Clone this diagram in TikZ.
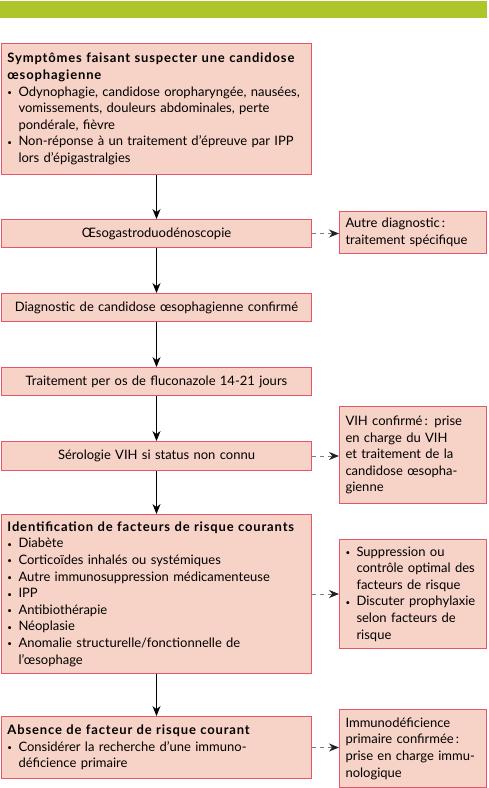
\documentclass[tikz,border=0pt]{standalone}
\usepackage{fontspec}
\setmainfont{Lato}[BoldFeatures={LetterSpace=6.5}]
\usetikzlibrary{arrows.meta}
\definecolor{boxfill}{HTML}{F7D2C6}
\definecolor{boxdraw}{HTML}{E4576A}
\definecolor{barcol}{HTML}{AEC62B}
\definecolor{dashcol}{HTML}{7A7A7A}
\definecolor{headcol}{HTML}{222222}
\newcommand\bul{\makebox[11pt][l]{\raisebox{0.6pt}{\footnotesize\textbullet}}}
\newcommand\ind{\hspace*{11pt}}
\begin{document}
\begin{tikzpicture}[x=1pt,y=-1pt,
  every node/.style={font=\fontsize{13}{16.6}\selectfont},
  mainbox/.style={draw=boxdraw, fill=boxfill, line width=1pt, anchor=north west,
    minimum width=309pt, text width=298pt, inner xsep=6pt, inner ysep=0pt, align=left},
  sidebox/.style={draw=boxdraw, fill=boxfill, line width=1pt, anchor=north west,
    minimum width=147pt, text width=135pt, inner xsep=6pt, inner ysep=0pt, align=left},
  flow/.style={-{Stealth[length=10pt,width=8pt]}, line width=0.9pt, black},
  side/.style={-{Stealth[length=10pt,width=8pt,color=headcol]}, line width=0.9pt, dashcol, dash pattern=on 4pt off 4pt}
]
\useasboundingbox (0,0) rectangle (488,788);
\fill[barcol] (0,1) rectangle (487,18);

\node[mainbox, minimum height=131pt] (b1) at (1,43) {%
\textbf{Symptômes faisant suspecter une candidose}\\
\textbf{œsophagienne}\\
\bul \mbox{Odynophagie, candidose oropharyngée, nausées,}\\
\ind vomissements, douleurs abdominales, perte\\
\ind pondérale, fièvre\\
\bul \mbox{Non-réponse à un traitement d’épreuve par IPP}\\
\ind lors d’épigastralgies};

\node[mainbox, minimum height=28pt, align=center] (b2) at (1,219) {Œsogastroduodénoscopie};
\node[mainbox, minimum height=28pt, align=center] (b3) at (1,293) {Diagnostic de candidose œsophagienne confirmé};
\node[mainbox, minimum height=28pt, align=center] (b4) at (1,367) {Traitement per os de fluconazole 14-21 jours};
\node[mainbox, minimum height=29pt, align=center] (b5) at (1,441) {Sérologie VIH si status non connu};

\node[mainbox, minimum height=159pt] (b6) at (1,514) {%
\mbox{\textbf{Identification de facteurs de risque courants}}\\
\bul Diabète\\
\bul Corticoïdes inhalés ou systémiques\\
\bul Autre immunosuppression médicamenteuse\\
\bul IPP\\
\bul Antibiothérapie\\
\bul Néoplasie\\
\bul Anomalie structurelle/fonctionnelle de\\
\ind l’œsophage};

\node[mainbox, minimum height=62pt] (b7) at (1,716) {%
\textbf{Absence de facteur de risque courant}\\
\bul Considérer la recherche d’une immuno-\\
\ind déficience primaire};

\node[sidebox, minimum height=42pt] (s1) at (339,211) {Autre diagnostic\,:\\traitement spécifique};
\node[sidebox, minimum height=97pt] (s2) at (339,406) {VIH confirmé\,: prise\\en charge du VIH\\et traitement de la\\candidose œsopha-\\gienne};
\node[sidebox, minimum height=109pt] (s3) at (339,539) {%
\bul Suppression ou\\
\ind \mbox{contrôle optimal des}\\
\ind facteurs de risque\\
\bul \mbox{Discuter prophylaxie}\\
\ind selon facteurs de\\
\ind risque};
\node[sidebox, minimum height=78pt] (s4) at (339,709) {Immunodéficience\\primaire confirmée\,:\\prise en charge immu-\\nologique};

\draw[flow] (b1.south) -- (b2.north);
\draw[flow] (b2.south) -- (b3.north);
\draw[flow] (b3.south) -- (b4.north);
\draw[flow] (b4.south) -- (b5.north);
\draw[flow] (b5.south) -- (b6.north);
\draw[flow] (b6.south) -- (b7.north);

\draw[side] (b2.east) -- (b2.east -| s1.west);
\draw[side] (b5.east) -- (b5.east -| s2.west);
\draw[side] (b6.east) -- (b6.east -| s3.west);
\draw[side] (b7.east) -- (b7.east -| s4.west);
\end{tikzpicture}
\end{document}
